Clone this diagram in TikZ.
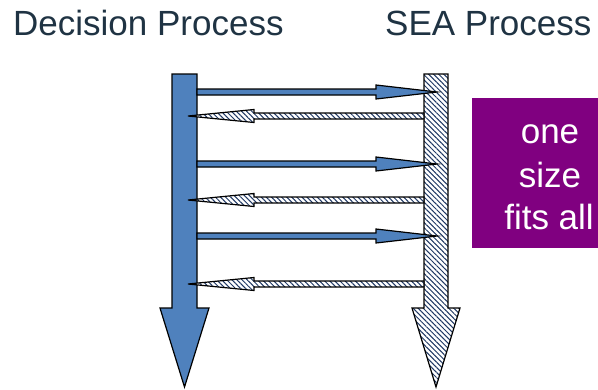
\documentclass[tikz,border=0pt]{standalone}
\usepackage{fontspec}
\setmainfont{Liberation Sans}
\usetikzlibrary{patterns.meta}
\definecolor{blk}{HTML}{4F81BD}
\definecolor{navy}{HTML}{1F3864}
\definecolor{titlec}{HTML}{1F3343}
\definecolor{purp}{HTML}{800080}
\tikzset{
  bluearrow/.style={fill=blk, draw=black, line width=1.2pt, line join=miter},
  hatcharrow/.style={preaction={fill=white}, pattern={Lines[angle=-45,distance=3.6pt,line width=1pt]}, pattern color=navy, draw=black, line width=1.2pt, line join=miter},
  titletext/.style={text=titlec, font=\fontsize{35}{42}\selectfont, inner sep=0pt, anchor=base west},
  boxtext/.style={text=white, font=\fontsize{35}{42}\selectfont, inner sep=0pt, anchor=base}
}
\begin{document}
\begin{tikzpicture}[x=1pt,y=-1pt]
\useasboundingbox (0,0) rectangle (598,389);
% titles
\node[titletext] (dec) at (13,35) {Decision Process};
\node[titletext] (sea) at (385,35) {SEA Process};
% purple box
\node[fill=purp, inner sep=0pt, minimum width=126pt, minimum height=150pt, anchor=north west] (box) at (472,98) {};
\node[boxtext] (t1) at (550,143) {one};
\node[boxtext] (t2) at (550,187) {size};
\node[boxtext] (t3) at (549,229) {fits all};
% vertical process arrows
\draw[bluearrow] (172,74) -- (197,74) -- (197,308) -- (209,308) -- (184.5,387) -- (160,308) -- (172,308) -- cycle;
\draw[hatcharrow] (424,74) -- (448,74) -- (448,308) -- (460,308) -- (436,387) -- (412,308) -- (424,308) -- cycle;
% rightward exchange arrows
\foreach \y in {92,164,236}{
  \draw[bluearrow] (197,\y-3) -- (376,\y-3) -- (376,\y-7) -- (437,\y) -- (376,\y+7) -- (376,\y+3) -- (197,\y+3) -- cycle;
}
% leftward exchange arrows
\foreach \y in {116,200,284}{
  \draw[hatcharrow] (424,\y-3) -- (254,\y-3) -- (254,\y-6.5) -- (188,\y) -- (254,\y+6.5) -- (254,\y+3) -- (424,\y+3) -- cycle;
}
\end{tikzpicture}
\end{document}
